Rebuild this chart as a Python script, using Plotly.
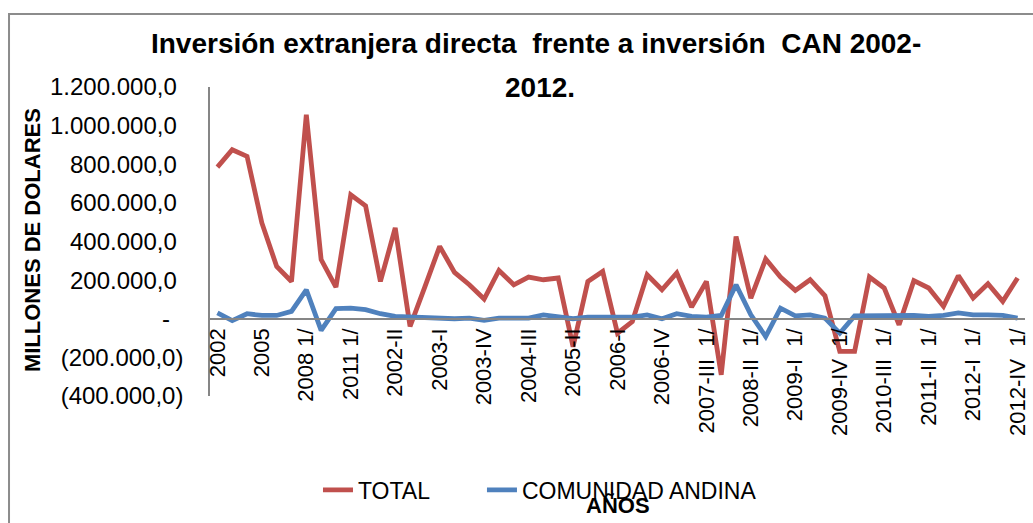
import plotly.graph_objects as go

categories = ["2002", "2003", "2004", "2005", "2006", "2007", "2008 1/", "2009 1/", "2010 1/", "2011 1/", "2012 1/",
              "2002-I", "2002-II", "2002-III", "2002-IV",
              "2003-I", "2003-II", "2003-III", "2003-IV",
              "2004-I", "2004-II", "2004-III", "2004-IV",
              "2005-I", "2005-II", "2005-III", "2005-IV",
              "2006-I", "2006-II", "2006-III", "2006-IV",
              "2007-I  1/", "2007-II  1/", "2007-III  1/", "2007-IV  1/",
              "2008-I  1/", "2008-II  1/", "2008-III  1/", "2008-IV  1/",
              "2009-I  1/", "2009-II  1/", "2009-III  1/", "2009-IV  1/",
              "2010-I  1/", "2010-II  1/", "2010-III  1/", "2010-IV  1/",
              "2011-I  1/", "2011-II  1/", "2011-III  1/", "2011-IV  1/",
              "2012-I  1/", "2012-II  1/", "2012-III  1/", "2012-IV  1/"]

total = [785000, 875000, 841000, 496000, 271000, 193000, 1057000, 306000, 164000, 642000, 585000,
         193000, 470000, -40000, 165000, 375000, 240000, 176000, 102000, 250000, 176000, 216000, 202000,
         211000, -145000, 193000, 245000, -75000, -15000, 228000, 150000, 237000, 60000, 193000, -290000,
         426000, 107000, 309000, 216000, 147000, 202000, 119000, -169000, -169000, 216000, 159000, -31000,
         197000, 159000, 64000, 223000, 107000, 181000, 90000, 211000]

comunidad_andina = [30000, -10000, 26000, 17000, 17000, 38000, 150000, -60000, 52000, 55000, 47000,
                    26000, 12000, 9000, 5000, 0, 0, 3000, -8000, 3000, 3000, 3000, 20000, 9000, 0,
                    8000, 8000, 3000, 8000, 20000, 0, 26000, 12000, 8000, 17000, 176000, 20000, -92000,
                    55000, 15000, 20000, 3000, -75000, 15000, 17000, 17000, 20000, 17000, 12000, 17000,
                    30000, 20000, 20000, 17000, 3000]

y_ticks = [-400000, -200000, 0, 200000, 400000, 600000, 800000, 1000000, 1200000]

title_line1 = "Inversión extranjera directa  frente a inversión  CAN 2002-"
title_line2 = "2012."


def fmt(v):
    if v == 0:
        return "-  "
    s = f"{abs(v):,.1f}".replace(",", "X").replace(".", ",").replace("X", ".")
    return f"({s})" if v < 0 else s + " "


FONT = "Liberation Sans, Arial, sans-serif"

fig = go.Figure()
fig.add_trace(go.Scatter(x=categories, y=total, mode="lines", name="TOTAL",
                         line=dict(color="#C0504D", width=4.8), legend="legend"))
fig.add_trace(go.Scatter(x=categories, y=comunidad_andina, mode="lines", name="COMUNIDAD ANDINA",
                         line=dict(color="#4F81BD", width=4.8), legend="legend2"))

legend_common = dict(orientation="h", xanchor="left", y=-0.304, yanchor="middle",
                     font=dict(size=23, family=FONT), bgcolor="rgba(0,0,0,0)")

fig.update_layout(
    width=1033, height=523,
    margin=dict(l=210, r=8, t=87, b=127),
    paper_bgcolor="white", plot_bgcolor="white",
    font=dict(family=FONT, color="black"),
    title=dict(text="<b>" + title_line1 + "</b>",
               x=0.519, xanchor="center", y=1 - 43 / 523, yanchor="middle", yref="container",
               font=dict(size=28, family=FONT, color="black")),
    showlegend=True,
    legend=dict(x=0.1325, **legend_common),
    legend2=dict(x=0.3337, **legend_common),
    xaxis=dict(type="category", range=[-0.5, len(categories) - 0.5],
               tickmode="array", tickvals=categories[::3], ticktext=categories[::3],
               tickangle=-90, tickfont=dict(size=22, family=FONT),
               showline=True, linecolor="#868686", linewidth=1.5,
               showgrid=False, zeroline=False, ticks="",
               anchor="free", position=0.25, automargin=False),
    yaxis=dict(range=[-400000, 1200000], tickmode="array", tickvals=y_ticks,
               ticktext=[fmt(v) for v in y_ticks], tickfont=dict(size=24, family=FONT),
               showline=True, linecolor="#868686", linewidth=1.5,
               showgrid=False, zeroline=False, ticks="", ticklabelstandoff=20,
               automargin=False),
    annotations=[
        dict(text="<b>" + title_line2 + "</b>", x=0.405, y=1.0, xref="paper", yref="paper",
             xanchor="center", yanchor="middle", showarrow=False, font=dict(size=28, family=FONT)),
        dict(text="<b>MILLONES DE DOLARES</b>", x=-0.217, y=0.505, xref="paper", yref="paper",
             xanchor="center", yanchor="middle",
             textangle=-90, showarrow=False, font=dict(size=22, family=FONT)),
        dict(text="<b>AÑOS</b>", x=0.5, y=-0.353, xref="paper", yref="paper",
             xanchor="center", yanchor="middle",
             showarrow=False, font=dict(size=22, family=FONT)),
    ],
    shapes=[dict(type="rect", xref="paper", yref="paper", x0=-0.2466, x1=1.05, y0=-0.7, y1=1.236,
                 line=dict(color="#8c8c8c", width=2), layer="below")],
)

fig.write_html("out.html", config={"displayModeBar": False},
               post_script="document.body.style.margin='0';document.body.style.overflow='hidden';")
